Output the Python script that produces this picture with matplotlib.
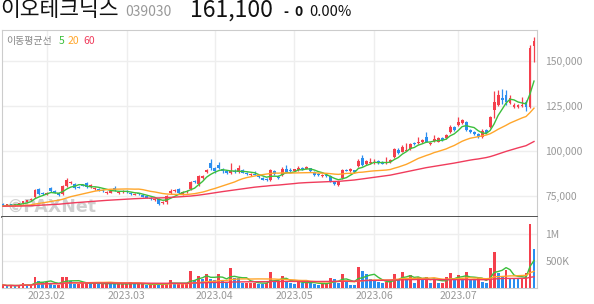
import numpy as np
import pandas as pd
import matplotlib
matplotlib.use('Agg')
import matplotlib.pyplot as plt

plt.rcParams['font.family'] = ['Noto Sans CJK KR', 'DejaVu Sans']

# trading days (KRX holidays removed)
holidays = ['2023-01-23', '2023-01-24', '2023-03-01', '2023-05-01',
            '2023-05-05', '2023-05-29', '2023-06-06']
dates = pd.bdate_range('2023-01-13', '2023-07-28').drop(pd.to_datetime(holidays))

opens = [70500, 70000, 70300, 69900, 70200, 70900, 71800, 72500, 74500, 78800,
         76500, 76000, 79300, 77600, 76400, 75900, 80600, 82200, 81600, 80200,
         81200, 82000, 80000, 78900, 78700, 78500, 76500, 76800, 79500, 76400,
         77300, 77700, 76800, 75700, 76400, 75600, 75000, 73800, 72700, 73300,
         71300, 71500, 76800, 77600, 78800, 76200, 77000, 78700, 83200, 81800,
         84800, 88400, 93300, 90400, 92200, 89800, 88700, 87800, 89000, 88400,
         89600, 87800, 86600, 87400, 86200, 84900, 84600, 83900, 88800, 85800,
         86600, 89800, 89400, 89000, 89400, 90600, 90000, 90300, 88200, 87400,
         86000, 86800, 86300, 82800, 81300, 84800, 89600, 88600, 89200, 91700,
         96300, 92800, 93200, 93300, 94400, 93700, 93100, 93600, 96800, 100600,
         99600, 100200, 100900, 104300, 104300, 104800, 108000, 103900, 105300, 105200,
         107000, 107000, 110700, 113500, 114400, 115400, 116300, 111700, 110700, 109400,
         108000, 111700, 113200, 122800, 125600, 129600, 131100, 126500, 124600, 124600,
         124900, 127400, 124300, 158100]
highs = [71000, 70600, 70800, 70500, 71200, 72400, 72900, 74000, 79000, 79500,
         77200, 77300, 80000, 78200, 76900, 81000, 85000, 83300, 82300, 80800,
         81700, 82600, 81500, 79900, 79200, 79000, 77500, 78500, 80300, 77300,
         78200, 78100, 77200, 76500, 76900, 76000, 75400, 74200, 73800, 73800,
         72400, 75500, 78800, 78800, 79300, 77500, 78200, 83500, 83700, 86800,
         86600, 90200, 95500, 91300, 93800, 90500, 89100, 93200, 89800, 92400,
         90100, 88300, 87700, 88600, 86700, 85400, 85000, 90000, 89500, 86400,
         91000, 92000, 90300, 90100, 91600, 91200, 91900, 90700, 88600, 87900,
         87300, 87300, 86800, 83200, 83000, 89900, 90200, 90800, 89600, 95300,
         97500, 95000, 96000, 95800, 95000, 94200, 96500, 95500, 101800, 101500,
         103200, 104300, 104500, 104800, 108000, 106600, 110500, 105200, 108900, 107600,
         107600, 109500, 114500, 114100, 118800, 117800, 116800, 112200, 111200, 109900,
         112200, 112200, 119500, 133300, 133900, 134500, 133900, 131000, 126500, 126300,
         130200, 128300, 158800, 163300]
lows = [69800, 69700, 69600, 69500, 70000, 70500, 71400, 72200, 74000, 75500,
        75600, 75700, 77000, 76500, 75000, 75500, 80200, 81600, 79000, 79200,
        80300, 79500, 79600, 78500, 77700, 77400, 76200, 76500, 78000, 76000,
        76900, 76800, 75500, 75300, 75800, 74300, 73700, 72800, 72300, 70200,
        70800, 70500, 76200, 77100, 76100, 75800, 76600, 78200, 82300, 80800,
        84300, 87800, 89600, 88000, 89800, 88000, 87300, 87400, 87700, 87900,
        87500, 86700, 86200, 86400, 85000, 83600, 83200, 83500, 86800, 84400,
        86200, 88000, 88500, 88600, 89000, 89200, 89700, 88300, 86300, 86000,
        85500, 85600, 82700, 81200, 80800, 84300, 88700, 88200, 87900, 91200,
        91500, 92300, 92800, 92900, 92700, 92500, 92700, 93200, 96300, 98200,
        99200, 99800, 100500, 103400, 103900, 104300, 104700, 103300, 104800, 104700,
        105800, 106500, 110000, 110900, 113900, 114900, 110900, 109900, 108900, 107000,
        107400, 109300, 112700, 118200, 124800, 126000, 125500, 126000, 124100, 124100,
        124400, 122300, 123800, 149600]
closes = [70000, 70300, 69900, 70200, 70900, 72000, 72500, 73500, 78300, 76000,
          76000, 76800, 77500, 76900, 75500, 80600, 83900, 82800, 79400, 79600,
          80600, 79800, 81000, 79500, 78000, 77800, 77200, 77600, 78300, 77000,
          77600, 77200, 75900, 76200, 76100, 74600, 74000, 73200, 73300, 70600,
          71900, 74800, 78000, 78300, 76500, 77000, 77600, 82900, 82700, 86100,
          86000, 89600, 90400, 88600, 90600, 88800, 88000, 88600, 88200, 90400,
          88000, 87200, 87000, 86900, 85500, 84100, 83600, 89400, 87300, 84900,
          89800, 88500, 88900, 89700, 90800, 89700, 90900, 88800, 86800, 86400,
          86700, 86000, 83100, 81700, 82500, 89400, 89100, 89800, 88500, 94600,
          92200, 94500, 93700, 93800, 93100, 93000, 94000, 95000, 101000, 98700,
          102400, 100700, 103900, 103900, 105200, 106100, 105200, 104500, 106400, 107000,
          106200, 108900, 113500, 111700, 116300, 117200, 111700, 110400, 109400, 107600,
          111300, 109800, 118700, 127400, 131300, 128300, 127400, 129300, 125500, 125500,
          125800, 124600, 157100, 161100]
volumes = [56000, 37000, 50000, 37000, 50000, 94000, 45000, 45000, 206000, 131000,
           106000, 106000, 100000, 62000, 62000, 206000, 206000, 125000, 69000, 69000,
           100000, 112000, 69000, 94000, 69000, 69000, 100000, 81000, 69000, 69000,
           69000, 81000, 112000, 69000, 69000, 69000, 62000, 62000, 75000, 69000,
           81000, 81000, 150000, 69000, 69000, 81000, 81000, 319000, 150000, 225000,
           175000, 262000, 175000, 150000, 262000, 150000, 100000, 375000, 190000, 180000,
           100000, 100000, 100000, 100000, 81000, 69000, 100000, 300000, 120000, 120000,
           230000, 120000, 100000, 81000, 110000, 100000, 110000, 100000, 81000, 50000,
           81000, 81000, 190000, 170000, 100000, 265000, 110000, 62000, 50000, 390000,
           320000, 265000, 170000, 120000, 110000, 100000, 110000, 120000, 260000, 170000,
           300000, 170000, 240000, 100000, 210000, 160000, 210000, 90000, 170000, 100000,
           100000, 210000, 280000, 160000, 240000, 150000, 300000, 170000, 140000, 190000,
           110000, 90000, 370000, 670000, 280000, 220000, 340000, 180000, 170000, 160000,
           190000, 280000, 1190000, 720000]

pre_window_close = 69300

ma_periods = [5, 20, 60]
ma_colors = ['#3cbf3c', '#ffa62b', '#f03c5c']
price_ticks = [75000, 100000, 125000, 150000]
vol_ticks = [500000, 1000000]
vol_tick_labels = ['500K', '1M']

RED = '#f43f4c'
BLUE = '#2b8ef0'
GRID = '#eeeeee'
FRAME = '#cccccc'

df = pd.DataFrame({'open': opens, 'high': highs, 'low': lows,
                   'close': closes, 'volume': volumes}, index=dates)
x = np.arange(len(df))
up = df['close'] >= df['open']
cc = np.where(up, RED, BLUE)
vc = np.where(df['volume'].diff().fillna(1) >= 0, RED, BLUE)

month_pos = [i for i in range(1, len(df)) if dates[i].month != dates[i - 1].month]
month_lab = [dates[i].strftime('%Y.%m') for i in month_pos]

# closes padded with the earlier level so the long averages have history
warm = max(ma_periods) - 1
ext_close = pd.Series(np.r_[np.full(warm, pre_window_close), df['close'].values])

fig = plt.figure(figsize=(5.94, 3.04), dpi=100)
W, H = 594.0, 304.0
ax = fig.add_axes([2 / W, 1 - 217 / H, 535 / W, 187 / H])
axv = fig.add_axes([2 / W, 1 - 288 / H, 535 / W, 71 / H], sharex=ax)

# price panel
body_lo = df[['open', 'close']].min(axis=1)
body_h = np.maximum((df['close'] - df['open']).abs(), 450)
ax.vlines(x, df['low'], df['high'], colors=cc, lw=0.9, zorder=3)
ax.bar(x, body_h, bottom=body_lo, width=0.72, color=cc, lw=0, zorder=4)
for p, c in zip(ma_periods, ma_colors):
    ma = ext_close.rolling(p).mean().values[warm:]
    ax.plot(x, ma, color=c, lw=1.0, zorder=5)

ax.set_xlim(-0.25, len(df) - 0.25)
ax.set_ylim(63300, 167200)
ax.set_yticks(price_ticks)
ax.set_yticklabels(['{:,}'.format(t) for t in price_ticks])
ax.set_xticks(month_pos)
ax.grid(True, color=GRID, lw=1.0, zorder=0)
ax.yaxis.tick_right()
ax.tick_params(axis='y', length=0, pad=6, labelsize=7.5, labelcolor='#999999')
ax.tick_params(axis='x', length=0, labelbottom=False)
for s in ['left', 'top', 'right']:
    ax.spines[s].set_color(FRAME)
ax.spines['bottom'].set_color('#333333')
ax.spines['bottom'].set_linewidth(1.2)
ax.set_axisbelow(True)

ax.text(0.008, 0.03, '©PAXNet', transform=ax.transAxes, fontsize=12.5,
        fontweight='bold', color='#c8c8c8', alpha=0.85,
        family='DejaVu Sans', zorder=2)

# legend
fig.text(6 / W, 1 - 41 / H, '이동평균선', fontsize=7.2, color='#888888', va='center')
for lab, c, px in zip(['5', '20', '60'], ma_colors, [59, 68, 83]):
    fig.text(px / W, 1 - 41 / H, lab, fontsize=7.5, color=c, va='center')

# volume panel
axv.bar(x, df['volume'], width=0.72, color=vc, lw=0, zorder=3)
for p, c in zip(ma_periods, ma_colors):
    axv.plot(x, df['volume'].rolling(p, min_periods=1).mean(), color=c, lw=1.0, zorder=4)
axv.set_ylim(0, 1310000)
axv.set_yticks(vol_ticks)
axv.set_yticklabels(vol_tick_labels)
axv.set_xticks(month_pos)
axv.set_xticklabels(month_lab)
axv.grid(True, color=GRID, lw=1.0, zorder=0)
axv.yaxis.tick_right()
axv.tick_params(axis='y', length=0, pad=6, labelsize=7.5, labelcolor='#999999')
axv.tick_params(axis='x', length=0, pad=2, labelsize=7.5, labelcolor='#999999')
axv.spines['top'].set_visible(False)
for s in ['left', 'bottom', 'right']:
    axv.spines[s].set_color(FRAME)
axv.set_axisbelow(True)

# header
fig.text(0 / W, 1 - 10 / H, '이오테크닉스', fontsize=15.5, color='#111111', va='center')
fig.text(125 / W, 1 - 12 / H, '039030', fontsize=10, color='#999999', va='center')
fig.text(190 / W, 1 - 10 / H, '161,100', fontsize=16.5, color='#111111', va='center')
fig.text(283 / W, 1 - 12 / H, '-', fontsize=10, color='#111111', va='center', fontweight='bold')
fig.text(294 / W, 1 - 12 / H, '0', fontsize=10, color='#111111', va='center', fontweight='bold')
fig.text(309 / W, 1 - 12 / H, '0.00%', fontsize=10.5, color='#111111', va='center')

fig.savefig('out.png', dpi=100)
